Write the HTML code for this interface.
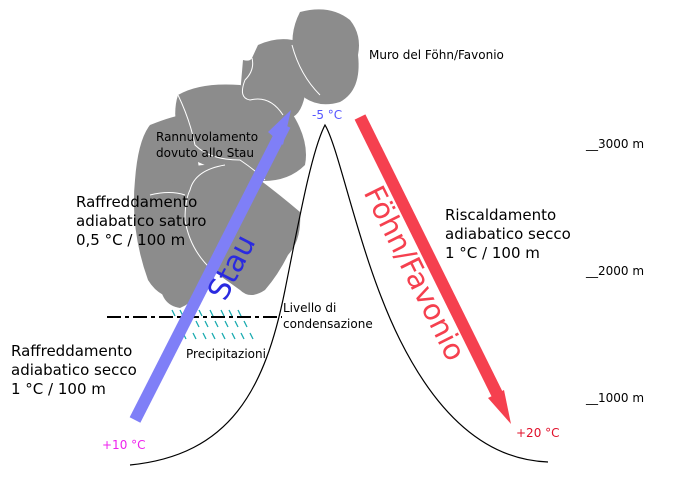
<!DOCTYPE html>
<html><head><meta charset="utf-8"><style>body{margin:0;background:#fff}svg{display:block}text{font-family:"DejaVu Sans","Liberation Sans",sans-serif}</style></head><body>
<svg width="680" height="480" viewBox="0 0 680 480" xmlns="http://www.w3.org/2000/svg">
<g fill="#8c8c8c" stroke="none">
<path d="M300,12 Q330,4 350,20 Q362,35 358,55 Q362,90 340,102 Q320,108 305,98 Q292,80 295,60 Q288,35 300,12Z"/>
<path d="M258,45 Q280,35 300,42 Q310,70 305,95 Q300,120 285,118 Q270,115 262,103 Q245,100 240,95 L243,60 Q250,62 252,58Z"/>
<path d="M178,95 Q200,82 240,85 Q270,95 290,110 Q310,140 305,165 Q285,185 250,180 Q210,170 185,155 Q170,120 178,95Z"/>
<path d="M150,125 Q175,115 185,115 Q200,150 200,190 Q190,250 185,300 Q160,300 148,280 Q130,230 135,180 Q138,140 150,125Z"/>
<path d="M165,195 Q180,165 205,165 Q240,165 260,180 Q280,195 300,212 Q302,240 288,255 Q278,275 265,290 Q250,300 240,290 L212,270 Q200,300 180,308 Q160,305 160,280 Q150,240 165,195Z"/>
</g>
<g fill="none" stroke="#fff" stroke-width="1">
<path d="M292,45 Q300,75 320,95"/>
<path d="M283,115 Q270,95 250,100 Q238,98 245,80 Q255,70 252,58"/>
<path d="M178,95 Q190,120 195,145 Q210,160 240,160 Q255,170 265,180"/>
<path d="M225,165 Q195,170 190,190 Q185,200 185,220 Q190,250 212,270"/>
<path d="M150,195 Q170,190 185,195"/>
</g>
<path d="M130,465 C230,455 265,390 285,290 C300,215 312,150 325,125 C340,150 360,260 400,340 C440,420 490,460 548,462" fill="none" stroke="#000" stroke-width="1.2"/>
<line x1="107" y1="317" x2="282" y2="317" stroke="#000" stroke-width="2" stroke-dasharray="14,4,4,4"/>
<g stroke="#1aabb0" stroke-width="1.3">
<path d="M172,310l3,6M180,310l3,6M199,310l3,6M210,310l3,6M221,310l3,6M229,310l3,6M238,310l3,6M185,321l3,6M196,321l3,6M205,321l3,6M215,321l3,6M225,321l3,6M235,321l3,6M244,321l3,6M183,333l3,6M193,333l3,6M203,333l3,6M212,333l3,6M222,333l3,6M232,333l3,6M241,333l3,6M250,333l3,6"/>
</g>
<line x1="135" y1="420" x2="285" y2="125" stroke="#7f7ff7" stroke-width="12"/>
<polygon points="291,110 283,145 268,132" fill="#7f7ff7"/>
<line x1="360" y1="117" x2="500" y2="400" stroke="#f5404f" stroke-width="12"/>
<polygon points="511,424 488,398 504,390" fill="#f5404f"/>
<text x="0" y="0" font-size="30" fill="#2a2ae0" transform="translate(233,268) rotate(-63)" text-anchor="middle" dominant-baseline="middle">Stau</text>
<text x="0" y="0" font-size="29" fill="#f5404f" transform="translate(413,274) rotate(63.5)" text-anchor="middle" dominant-baseline="middle">Föhn/Favonio</text>
<g font-size="12" fill="#000">
<text x="369" y="59">Muro del Föhn/Favonio</text>
<text x="156" y="141">Rannuvolamento</text>
<text x="156" y="157">dovuto allo Stau</text>
<text x="283" y="312">Livello di</text>
<text x="283" y="328">condensazione</text>
<text x="186" y="358">Precipitazioni</text>
<text x="586" y="148">__3000 m</text>
<text x="586" y="275">__2000 m</text>
<text x="586" y="402">__1000 m</text>
</g>
<g font-size="15" fill="#000">
<text x="76" y="207">Raffreddamento</text>
<text x="76" y="226">adiabatico saturo</text>
<text x="76" y="245">0,5 °C / 100 m</text>
<text x="11" y="356">Raffreddamento</text>
<text x="11" y="375">adiabatico secco</text>
<text x="11" y="394">1 °C / 100 m</text>
<text x="445" y="220">Riscaldamento</text>
<text x="445" y="239">adiabatico secco</text>
<text x="445" y="258">1 °C / 100 m</text>
</g>
<text x="312" y="119" font-size="12" fill="#5555ff">-5 °C</text>
<text x="102" y="449" font-size="12" fill="#ee22ee">+10 °C</text>
<text x="516" y="437" font-size="12" fill="#e0102a">+20 °C</text>
</svg>
</body></html>
